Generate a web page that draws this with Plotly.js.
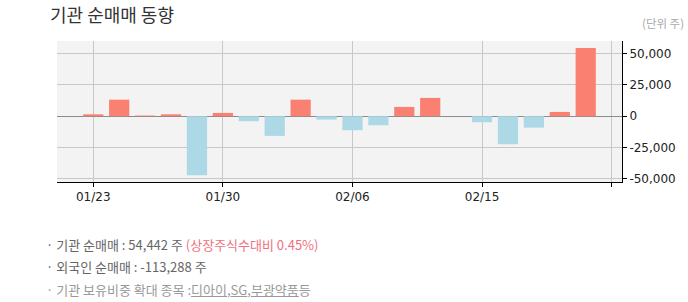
<!DOCTYPE html>
<html><head><meta charset="utf-8">
<script src="https://cdn.plot.ly/plotly-3.0.1.min.js"></script>
<style>
html,body{margin:0;padding:0;background:#fff;}
#wrap{position:relative;width:688px;height:302px;overflow:hidden;}
#chart{position:absolute;left:0;top:0;width:688px;height:302px;}
.info{position:absolute;left:46px;font-family:"Noto Sans CJK KR","Noto Sans",sans-serif;font-size:13px;white-space:nowrap;line-height:16px;}
.info u{text-decoration:underline;}
</style></head>
<body><div id="wrap"><div id="chart"></div>
<div class="info" style="top:237px;color:#666;">· 기관 순매매 : 54,442 주 <span style="color:#f0707e;">(상장주식수대비 0.45%)</span></div>
<div class="info" style="top:259px;color:#666;">· 외국인 순매매 : -113,288 주</div>
<div class="info" style="top:282px;color:#999;">· 기관 보유비중 확대 종목 :<u>디아이</u>,<u>SG</u>,<u>부광약품</u>등</div>
</div>
<script>
const xIndex = [0,1,2,3,4,5,6,7,8,9,10,11,12,13,14,15,16,17,18,19];
const netBuy = [1500,13200,500,1500,-47100,2600,-4000,-15700,13200,-2700,-11200,-7200,7400,14600,0,-4800,-22400,-9100,3400,54442];
const tickIndex = [0,5,10,15,20];
const tickLabels = ['01/23','01/30','02/06','02/15',''];
const yTicks = [-50000,-25000,0,25000,50000];
const yTickLabels = ['-50,000','-25,000','0','25,000','50,000'];

const colors = netBuy.map(v => v >= 0 ? '#FA8072' : '#ADD8E6');
const trace = {type:'bar', x:xIndex, y:netBuy, width:0.78, marker:{color:colors, line:{width:0}}, hoverinfo:'none'};
const layout = {
  width:688, height:302,
  margin:{l:57, r:66, t:41, b:120},
  paper_bgcolor:'#ffffff', plot_bgcolor:'#F3F3F3',
  showlegend:false,
  font:{family:'DejaVu Sans, sans-serif', size:12, color:'#222'},
  xaxis:{range:[-1.4,20.4], tickmode:'array', tickvals:tickIndex, ticktext:tickLabels,
    showgrid:true, gridcolor:'#C8C8C8', gridwidth:1, zeroline:false,
    ticks:'outside', ticklen:4, tickcolor:'#000', showline:true, linecolor:'#000', linewidth:1,
    tickfont:{size:12, color:'#222'}, fixedrange:true},
  yaxis:{range:[-52500,60000], side:'right', tickmode:'array', tickvals:yTicks, ticktext:yTickLabels,
    showgrid:true, gridcolor:'#C8C8C8', gridwidth:1, zeroline:true, zerolinecolor:'#8c8c8c', zerolinewidth:1,
    ticks:'outside', ticklen:4, tickcolor:'#000', showline:true, linecolor:'#000', linewidth:1,
    tickfont:{size:12, color:'#222'}, fixedrange:true},
  annotations:[
    {text:'기관 순매매 동향', xref:'paper', yref:'paper', x:0, y:1, xanchor:'left', yanchor:'middle', xshift:-9, yshift:27,
     showarrow:false, font:{family:'Noto Sans CJK KR, sans-serif', size:18, color:'#333'}},
    {text:'(단위 주)', xref:'paper', yref:'paper', x:1, y:1, xanchor:'right', yanchor:'middle', xshift:64, yshift:18,
     showarrow:false, font:{family:'Noto Sans CJK KR, sans-serif', size:11.5, color:'#aaa'}}
  ]
};
Plotly.newPlot('chart',[trace],layout,{staticPlot:true, displayModeBar:false});
</script></body></html>
